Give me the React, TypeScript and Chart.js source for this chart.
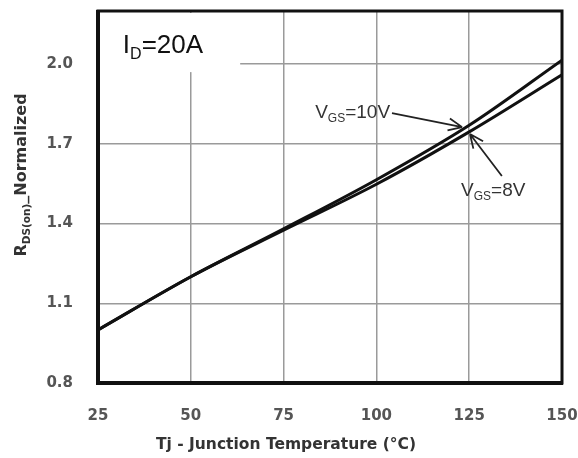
import React, { useEffect, useRef } from "react";
import { Chart, registerables } from "chart.js";

Chart.register(...registerables);

const temps = [25, 50, 75, 100, 125, 150];
const vgs10 = [1.0, 1.2, 1.38, 1.565, 1.77, 2.015];
const vgs8 = [1.0, 1.2, 1.375, 1.548, 1.745, 1.96];
const xTicks = [25, 50, 75, 100, 125, 150];
const yTicks = [0.8, 1.1, 1.4, 1.7, 2.0];
const xTitle = "Tj - Junction Temperature (°C)";

const FONT = "'Liberation Sans', Arial, sans-serif";
const BFONT = "'DejaVu Sans', sans-serif";

type Part = { t: string; size: number; bold?: boolean; dy?: number; fam?: string };

function fontOf(p: Part) {
  return `${p.bold ? "bold " : ""}${p.size}px ${p.fam || FONT}`;
}

function partsWidth(ctx: CanvasRenderingContext2D, parts: Part[]) {
  let w = 0;
  for (const p of parts) {
    ctx.font = fontOf(p);
    w += ctx.measureText(p.t).width;
  }
  return w;
}

function drawParts(ctx: CanvasRenderingContext2D, parts: Part[], x: number, y: number) {
  let cx = x;
  ctx.textAlign = "left";
  ctx.textBaseline = "alphabetic";
  for (const p of parts) {
    ctx.font = fontOf(p);
    ctx.fillText(p.t, cx, y + (p.dy || 0));
    cx += ctx.measureText(p.t).width;
  }
  return cx;
}

function arrow(ctx: CanvasRenderingContext2D, x1: number, y1: number, x2: number, y2: number) {
  ctx.beginPath();
  ctx.moveTo(x1, y1);
  ctx.lineTo(x2, y2);
  const a = Math.atan2(y2 - y1, x2 - x1);
  const L = 15;
  const s = 0.42;
  ctx.moveTo(x2, y2);
  ctx.lineTo(x2 - L * Math.cos(a - s), y2 - L * Math.sin(a - s));
  ctx.moveTo(x2, y2);
  ctx.lineTo(x2 - L * Math.cos(a + s), y2 - L * Math.sin(a + s));
  ctx.stroke();
}

const annotPlugin = {
  id: "annot",
  beforeDatasetsDraw(chart: any) {
    const { ctx, chartArea, scales } = chart;
    const x = scales.x;
    const y = scales.y;
    ctx.save();
    ctx.fillStyle = "#ffffff";
    const bx = chartArea.left + 2;
    const by = chartArea.top + 2;
    ctx.fillRect(bx, by, x.getPixelForValue(63.3) - bx, y.getPixelForValue(1.97) - by);
    ctx.restore();
  },
  afterDraw(chart: any) {
    const { ctx, chartArea, scales } = chart;
    const x = scales.x;
    const y = scales.y;
    ctx.save();
    // frame
    ctx.strokeStyle = "#111";
    ctx.lineWidth = 3;
    ctx.strokeRect(chartArea.left, chartArea.top, chartArea.right - chartArea.left, chartArea.bottom - chartArea.top);
    ctx.lineWidth = 4;
    ctx.beginPath();
    ctx.moveTo(chartArea.left, chartArea.top - 1);
    ctx.lineTo(chartArea.left, chartArea.bottom);
    ctx.lineTo(chartArea.right + 1, chartArea.bottom);
    ctx.stroke();

    // I_D=20A
    ctx.fillStyle = "#111";
    drawParts(
      ctx,
      [
        { t: "I", size: 26 },
        { t: "D", size: 16, dy: 6 },
        { t: "=20A", size: 26 },
      ],
      x.getPixelForValue(31.7),
      y.getPixelForValue(2.042)
    );

    // VGS labels
    ctx.fillStyle = "#333";
    drawParts(
      ctx,
      [
        { t: "V", size: 19 },
        { t: "GS", size: 12, dy: 4 },
        { t: "=10V", size: 19 },
      ],
      x.getPixelForValue(83.5),
      y.getPixelForValue(1.797)
    );
    drawParts(
      ctx,
      [
        { t: "V", size: 19 },
        { t: "GS", size: 12, dy: 4 },
        { t: "=8V", size: 19 },
      ],
      x.getPixelForValue(122.8),
      y.getPixelForValue(1.504)
    );

    ctx.strokeStyle = "#222";
    ctx.lineWidth = 1.8;
    arrow(ctx, x.getPixelForValue(104.2), y.getPixelForValue(1.816), x.getPixelForValue(123.1), y.getPixelForValue(1.763));
    arrow(ctx, x.getPixelForValue(133.8), y.getPixelForValue(1.579), x.getPixelForValue(125.2), y.getPixelForValue(1.737));

    // x title
    ctx.fillStyle = "#333";
    ctx.font = `bold 15.5px ${BFONT}`;
    ctx.textAlign = "center";
    ctx.textBaseline = "middle";
    ctx.fillText(xTitle, 286, 445);

    // y title
    const yParts: Part[] = [
      { t: "R", size: 16, bold: true, fam: BFONT },
      { t: "DS(on)", size: 10.5, bold: true, dy: 4, fam: BFONT },
      { t: "_Normalized", size: 16, bold: true, fam: BFONT },
    ];
    ctx.translate(20, 175);
    ctx.rotate(-Math.PI / 2);
    const w = partsWidth(ctx, yParts);
    drawParts(ctx, yParts, -w / 2, 6);
    ctx.restore();
  },
};

function zeroPad(s: any) {
  s.paddingTop = 0;
  s.paddingBottom = 0;
  s.paddingLeft = 0;
  s.paddingRight = 0;
}

export default function App() {
  const ref = useRef<HTMLCanvasElement | null>(null);
  useEffect(() => {
    if (!ref.current) return;
    const tickFont = { family: BFONT, size: 15, weight: "bold" as const };
    const chart = new Chart(ref.current, {
      type: "line",
      data: {
        datasets: [
          {
            label: "VGS=10V",
            data: temps.map((t, i) => ({ x: t, y: vgs10[i] })),
            borderColor: "#111",
            borderWidth: 3,
            pointRadius: 0,
            cubicInterpolationMode: "monotone",
            fill: false,
          },
          {
            label: "VGS=8V",
            data: temps.map((t, i) => ({ x: t, y: vgs8[i] })),
            borderColor: "#111",
            borderWidth: 3,
            pointRadius: 0,
            cubicInterpolationMode: "monotone",
            fill: false,
          },
        ],
      },
      options: {
        responsive: false,
        animation: false,
        layout: { padding: { top: 11, right: 16, left: 0, bottom: 0 } },
        plugins: { legend: { display: false }, tooltip: { enabled: false } },
        scales: {
          x: {
            type: "linear",
            min: 25,
            max: 150,
            afterBuildTicks: (s: any) => {
              s.ticks = xTicks.map((v) => ({ value: v }));
            },
            afterFit: (s: any) => {
              s.height = 75;
              zeroPad(s);
            },
            grid: { color: "#9a9a9a", lineWidth: 1.5, drawTicks: false },
            border: { display: false },
            ticks: {
              padding: 24,
              font: tickFont,
              color: "#555",
              maxRotation: 0,
              autoSkip: false,
              callback: (v: any) => String(v),
            },
          },
          y: {
            type: "linear",
            min: 0.8,
            max: 2.2,
            afterBuildTicks: (s: any) => {
              s.ticks = yTicks.map((v) => ({ value: v }));
            },
            afterFit: (s: any) => {
              s.width = 98;
              zeroPad(s);
            },
            grid: { color: "#9a9a9a", lineWidth: 1.5, drawTicks: false },
            border: { display: false },
            ticks: {
              padding: 25,
              font: tickFont,
              color: "#555",
              autoSkip: false,
              callback: (v: any) => Number(v).toFixed(1),
            },
          },
        },
      },
      plugins: [annotPlugin],
    });
    return () => chart.destroy();
  }, []);
  return (
    <div style={{ position: "absolute", left: 0, top: 0, width: 578, height: 458, background: "#fff" }}>
      <canvas ref={ref} width={578} height={458} style={{ display: "block" }} />
    </div>
  );
}
